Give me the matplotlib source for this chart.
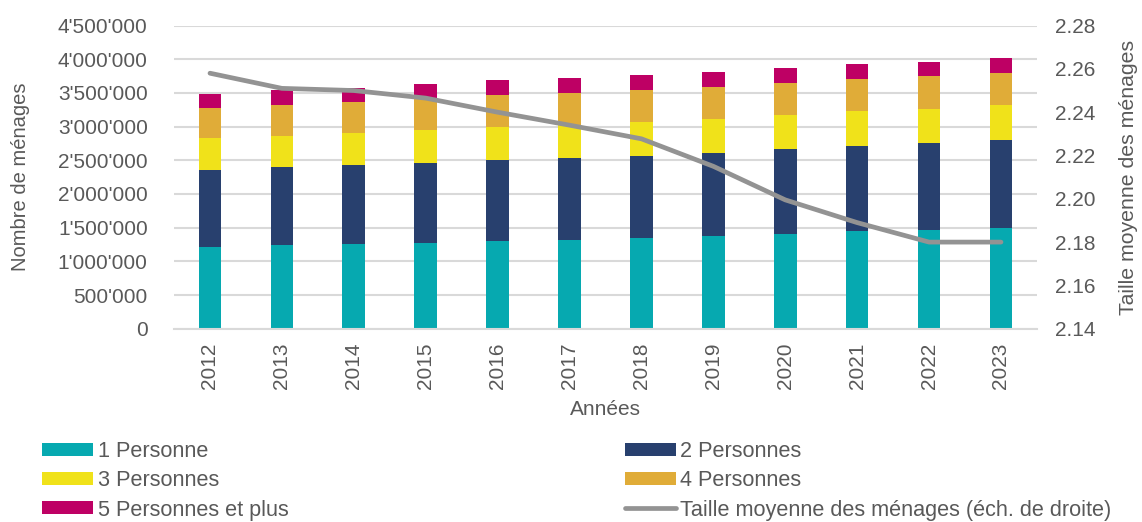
import numpy as np
import matplotlib.pyplot as plt
from matplotlib.ticker import FuncFormatter, MultipleLocator

plt.rcParams['font.family'] = ['Liberation Sans', 'DejaVu Sans']

# Data
years = ["2012", "2013", "2014", "2015", "2016", "2017",
         "2018", "2019", "2020", "2021", "2022", "2023"]
p1 = [1217000, 1242000, 1257000, 1276000, 1301000, 1316000,
      1341000, 1371000, 1405000, 1445000, 1469000, 1494000]
p2 = [1138000, 1152000, 1172000, 1187000, 1202000, 1221000,
      1226000, 1240000, 1266000, 1270000, 1286000, 1306000]
p3 = [470000, 470000, 479000, 485000, 494000, 490000,
      504000, 505000, 500000, 510000, 505000, 515000]
p4 = [445000, 455000, 460000, 470000, 470000, 470000,
      470000, 474000, 479000, 480000, 489000, 483000]
p5 = [220000, 221000, 212000, 212000, 218000, 220000,
      223000, 219000, 214000, 218000, 212000, 223000]
avg_size = [2.258, 2.251, 2.250, 2.2465, 2.240, 2.234,
            2.2277, 2.215, 2.1995, 2.189, 2.180, 2.180]

labels = ["1 Personne", "2 Personnes", "3 Personnes", "4 Personnes",
          "5 Personnes et plus"]
colors = ["#06A9B0", "#28406E", "#F0E21A", "#E0AC38", "#BE0064"]
line_label = "Taille moyenne des ménages (éch. de droite)"

txt = "#595959"
fs = 15

fig = plt.figure(figsize=(11.42, 5.22), dpi=100)
ax = fig.add_axes([0.1524, 0.3703, 0.7556, 0.5807])
ax2 = ax.twinx()

x = np.arange(len(years))
bottom = np.zeros(len(years))
bars = []
for vals, lab, col in zip([p1, p2, p3, p4, p5], labels, colors):
    b = ax.bar(x, vals, width=0.315, bottom=bottom, color=col, label=lab, zorder=2)
    bars.append(b)
    bottom += np.array(vals)

ln, = ax2.plot(x, avg_size, color="#939393", linewidth=3.4,
               solid_capstyle="round", solid_joinstyle="round", label=line_label)

ax.set_xlim(-0.5, len(years) - 0.5)
ax.set_ylim(0, 4500000)
ax.yaxis.set_major_locator(MultipleLocator(500000))
ax.yaxis.set_major_formatter(FuncFormatter(lambda v, p: f"{int(v):,}".replace(",", "'")))
ax2.set_ylim(2.14, 2.28)
ax2.yaxis.set_major_locator(MultipleLocator(0.02))
ax2.yaxis.set_major_formatter(FuncFormatter(lambda v, p: f"{v:.2f}"))

ax.set_xticks(x)
ax.set_xticklabels(years, rotation=90)
ax.grid(axis="y", color="#D9D9D9", linewidth=1.5, zorder=0)
ax.set_axisbelow(True)

for a in (ax, ax2):
    for s in a.spines.values():
        s.set_visible(False)
ax.spines["bottom"].set_visible(True)
ax.spines["bottom"].set_color("#D9D9D9")
ax.spines["bottom"].set_linewidth(1.5)

ax.tick_params(axis="y", length=0, pad=19, labelsize=fs, labelcolor=txt)
ax.tick_params(axis="x", length=0, pad=10, labelsize=fs, labelcolor=txt)
ax2.tick_params(axis="y", length=0, pad=13, labelsize=fs, labelcolor=txt)

ax.set_xlabel("Années", fontsize=fs, color=txt, labelpad=8)
ax.set_ylabel("Nombre de ménages", fontsize=14.5, color=txt, labelpad=20)
ax2.set_ylabel("Taille moyenne des ménages", fontsize=15.3, color=txt, labelpad=17)

common = dict(frameon=False, fontsize=15.6, labelcolor=txt, handlelength=2.35,
              handleheight=0.55, handletextpad=0.22, labelspacing=0.38,
              borderpad=0, borderaxespad=0, loc="upper left")
leg1 = fig.legend([bars[0], bars[2], bars[4]], [labels[0], labels[2], labels[4]],
                  bbox_to_anchor=(0.037, 0.155), **common)
leg2 = fig.legend([bars[1], bars[3], ln], [labels[1], labels[3], line_label],
                  bbox_to_anchor=(0.547, 0.155), **common)

fig.savefig("out.png", dpi=100)
